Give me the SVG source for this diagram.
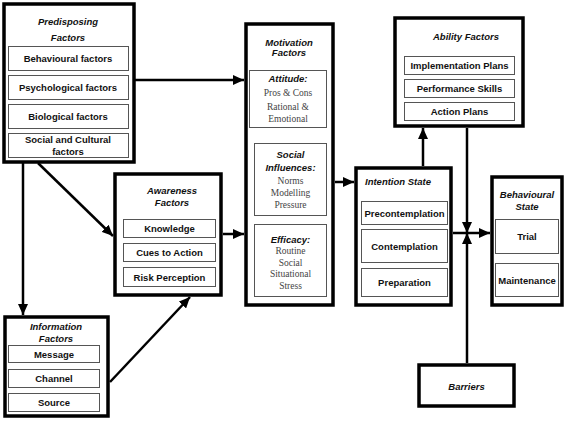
<svg xmlns="http://www.w3.org/2000/svg" width="567" height="421" viewBox="0 0 567 421">
<defs>
<marker id="ah" markerUnits="userSpaceOnUse" markerWidth="11" markerHeight="10" refX="11" refY="5" orient="auto">
<path d="M0,0 L11,5 L0,10 z" fill="#000"/>
</marker>
<style>
.outer{fill:#fff;stroke:#000;stroke-width:3.5}
.inner{fill:#fff;stroke:#555;stroke-width:1}
.t{font-family:"Liberation Sans",Arial,sans-serif;font-weight:bold;font-size:9.5px;fill:#111;text-anchor:middle}
.h{font-family:"Liberation Sans",Arial,sans-serif;font-weight:bold;font-style:italic;font-size:9.5px;fill:#111;text-anchor:middle}
.s{font-family:"Liberation Serif","Times New Roman",serif;font-size:9.5px;fill:#444;text-anchor:middle}
.c{fill:none;stroke:#000;stroke-width:2.5}
</style>
</defs>
<rect width="567" height="421" fill="#fff"/>
<g id="connectors">
<line class="c" x1="135" y1="80" x2="244" y2="80" marker-end="url(#ah)"/>
<line class="c" x1="38" y1="163" x2="113" y2="236" marker-end="url(#ah)"/>
<line class="c" x1="23" y1="163" x2="23" y2="315" marker-end="url(#ah)"/>
<line class="c" x1="110" y1="382" x2="190" y2="297" marker-end="url(#ah)"/>
<line class="c" x1="223" y1="234" x2="244" y2="234" marker-end="url(#ah)"/>
<line class="c" x1="335" y1="182" x2="354" y2="182" marker-end="url(#ah)"/>
<line class="c" x1="423" y1="166" x2="423" y2="128" marker-end="url(#ah)"/>
<line class="c" x1="467" y1="128" x2="467" y2="233" marker-end="url(#ah)"/>
<line class="c" x1="467" y1="363" x2="467" y2="233" marker-end="url(#ah)"/>
<line class="c" x1="453" y1="233" x2="490" y2="233" marker-end="url(#ah)"/>
</g>
<g id="predisposing">
<rect class="outer" x="4" y="4" width="130" height="158"/>
<text class="h" x="68" y="25">Predisposing</text>
<text class="h" x="68" y="41">Factors</text>
<rect class="inner" x="8.5" y="46.5" width="120" height="24"/>
<text class="t" x="68" y="62">Behavioural factors</text>
<rect class="inner" x="8.5" y="75.5" width="120" height="24"/>
<text class="t" x="68" y="91">Psychological factors</text>
<rect class="inner" x="8.5" y="104.5" width="120" height="24"/>
<text class="t" x="68" y="120">Biological factors</text>
<rect class="inner" x="8.5" y="133.5" width="120" height="24"/>
<text class="t" x="68" y="143">Social and Cultural</text>
<text class="t" x="68" y="155">factors</text>
</g>
<g id="awareness">
<rect class="outer" x="115" y="174" width="106" height="121"/>
<text class="h" x="172" y="194">Awareness</text>
<text class="h" x="172" y="206">Factors</text>
<rect class="inner" x="123.5" y="219.5" width="92" height="18"/>
<text class="t" x="169.5" y="232">Knowledge</text>
<rect class="inner" x="123.5" y="243.5" width="92" height="18"/>
<text class="t" x="169.5" y="256">Cues to Action</text>
<rect class="inner" x="123.5" y="267.5" width="92" height="19"/>
<text class="t" x="169.5" y="280.5">Risk Perception</text>
</g>
<g id="information">
<rect class="outer" x="5" y="317" width="103" height="99"/>
<text class="h" x="56" y="330">Information</text>
<text class="h" x="56" y="342">Factors</text>
<rect class="inner" x="8.5" y="345.5" width="91" height="17"/>
<text class="t" x="54" y="357.5">Message</text>
<rect class="inner" x="8.5" y="369.5" width="91" height="18"/>
<text class="t" x="54" y="382">Channel</text>
<rect class="inner" x="8.5" y="393.5" width="91" height="18"/>
<text class="t" x="54" y="406">Source</text>
</g>
<g id="motivation">
<rect class="outer" x="246" y="24" width="87" height="281"/>
<text class="h" x="289" y="45.5">Motivation</text>
<text class="h" x="289" y="56">Factors</text>
<rect class="inner" x="249.5" y="70.5" width="77" height="57"/>
<text class="h" x="288" y="81.5">Attitude:</text>
<text class="s" x="288" y="96">Pros &amp; Cons</text>
<text class="s" x="288" y="110">Rational &amp;</text>
<text class="s" x="288" y="122">Emotional</text>
<rect class="inner" x="254.5" y="143.5" width="72" height="72"/>
<text class="h" x="290.5" y="157.5">Social</text>
<text class="h" x="290.5" y="170.5">Influences:</text>
<text class="s" x="290.5" y="184">Norms</text>
<text class="s" x="290.5" y="196">Modelling</text>
<text class="s" x="290.5" y="208">Pressure</text>
<rect class="inner" x="254.5" y="224.5" width="72" height="72"/>
<text class="h" x="290.5" y="242.5">Efficacy:</text>
<text class="s" x="290.5" y="254">Routine</text>
<text class="s" x="290.5" y="266">Social</text>
<text class="s" x="290.5" y="277">Situational</text>
<text class="s" x="290.5" y="288.5">Stress</text>
</g>
<g id="intention">
<rect class="outer" x="356" y="168" width="95" height="137"/>
<text class="h" x="398" y="184.5">Intention State</text>
<rect class="inner" x="361.5" y="201.5" width="86" height="23"/>
<text class="t" x="404.5" y="216.5">Precontemplation</text>
<rect class="inner" x="361.5" y="229.5" width="86" height="33"/>
<text class="t" x="404.5" y="249.5">Contemplation</text>
<rect class="inner" x="361.5" y="268.5" width="86" height="28"/>
<text class="t" x="404.5" y="286">Preparation</text>
</g>
<g id="ability">
<rect class="outer" x="395" y="18" width="128" height="108"/>
<text class="h" x="466" y="39.5">Ability Factors</text>
<rect class="inner" x="404.5" y="56.5" width="110" height="18"/>
<text class="t" x="459.5" y="69">Implementation Plans</text>
<rect class="inner" x="404.5" y="79.5" width="110" height="18"/>
<text class="t" x="459.5" y="92">Performance Skills</text>
<rect class="inner" x="404.5" y="102.5" width="110" height="18"/>
<text class="t" x="459.5" y="115">Action Plans</text>
</g>
<g id="behavioural">
<rect class="outer" x="492" y="177" width="70" height="128"/>
<text class="h" x="527" y="198">Behavioural</text>
<text class="h" x="527" y="210">State</text>
<rect class="inner" x="495.5" y="219.5" width="63" height="34"/>
<text class="t" x="527" y="240">Trial</text>
<rect class="inner" x="495.5" y="263.5" width="63" height="33"/>
<text class="t" x="527" y="283.5">Maintenance</text>
</g>
<g id="barriers">
<rect class="outer" x="419" y="365" width="95" height="41"/>
<text class="h" x="466.5" y="390">Barriers</text>
</g>
</svg>
